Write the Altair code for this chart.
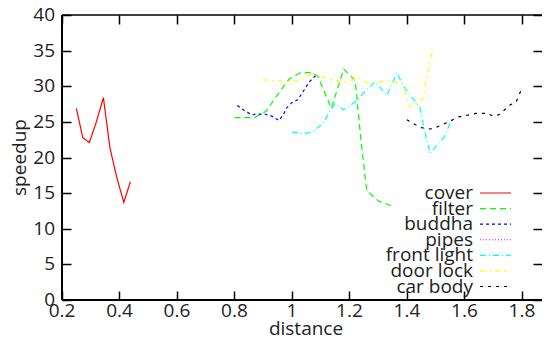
import altair as alt
import pandas as pd

# ---- data ----
series_names = ["cover", "filter", "buddha", "pipes", "front light", "door lock", "car body"]
series_colors = ["#ff0000", "#00ff00", "#0000ff", "#ff00ff", "#00ffff", "#ffff00", "#000000"]
series_dashes = [[1, 0], [6, 4], [3, 3], [1, 2], [6, 3, 1, 3], [5, 4, 2, 4], [3, 5]]

cover_x = [0.25, 0.272, 0.295, 0.318, 0.344, 0.367, 0.39, 0.415, 0.438]
cover_y = [26.9, 22.8, 22.1, 24.8, 28.4, 21.3, 17.3, 13.7, 16.6]

filter_x = [0.80, 0.87, 0.91, 0.95, 0.99, 1.03, 1.07, 1.09, 1.137, 1.18, 1.22, 1.24, 1.26, 1.30, 1.35]
filter_y = [25.6, 25.6, 26.5, 28.8, 31.0, 31.9, 31.9, 31.4, 26.9, 32.4, 30.8, 22.5, 15.4, 13.9, 13.2]

buddha_x = [0.81, 0.835, 0.86, 0.88, 0.905, 0.93, 0.955, 0.97, 0.98, 1.00, 1.02, 1.035, 1.06, 1.085]
buddha_y = [27.3, 26.6, 26.0, 26.1, 26.1, 25.8, 25.2, 26.0, 26.9, 27.7, 28.1, 29.0, 30.6, 31.6]

pipes_x = []
pipes_y = []

front_x = [1.00, 1.04, 1.07, 1.11, 1.13, 1.15, 1.18, 1.22, 1.26, 1.29, 1.33, 1.365, 1.39, 1.42,
           1.445, 1.46, 1.48, 1.50, 1.53, 1.55]
front_y = [23.6, 23.3, 23.6, 24.8, 26.4, 27.6, 26.7, 27.8, 29.5, 30.6, 28.7, 31.9, 29.9, 28.3,
           27.1, 24.0, 20.6, 21.5, 22.9, 24.8]

door_x = [0.90, 0.95, 0.99, 1.03, 1.07, 1.10, 1.14, 1.19, 1.23, 1.26, 1.30, 1.34, 1.375, 1.39,
          1.41, 1.44, 1.455, 1.475, 1.49]
door_y = [30.9, 30.8, 30.6, 30.9, 31.7, 31.4, 30.9, 30.6, 31.2, 30.5, 30.6, 30.8, 30.4, 29.7,
          27.1, 27.7, 28.3, 32.3, 35.3]

car_x = [1.40, 1.43, 1.45, 1.48, 1.50, 1.55, 1.58, 1.62, 1.64, 1.68, 1.70, 1.72, 1.74, 1.76, 1.78, 1.80]
car_y = [25.3, 24.6, 24.2, 24.0, 24.2, 25.1, 25.7, 26.0, 26.2, 26.2, 25.8, 26.0, 26.7, 27.4, 27.8, 29.7]

x_ticks = [0.2, 0.4, 0.6, 0.8, 1, 1.2, 1.4, 1.6, 1.8]
x_labels = ["0.2", "0.4", "0.6", "0.8", "1", "1.2", "1.4", "1.6", "1.8"]
y_ticks = [0, 5, 10, 15, 20, 25, 30, 35, 40]
y_labels = ["0", "5", "10", "15", "20", "25", "30", "35", "40"]
x_title = "distance"
y_title = "speedup"
x_domain = [0.2, 1.87]
y_domain = [0, 40]

# ---- build tables ----
all_x = [cover_x, filter_x, buddha_x, pipes_x, front_x, door_x, car_x]
all_y = [cover_y, filter_y, buddha_y, pipes_y, front_y, door_y, car_y]
rows = []
for name, xs_, ys_ in zip(series_names, all_x, all_y):
    for i, (xv, yv) in enumerate(zip(xs_, ys_)):
        rows.append({"series": name, "x": xv, "y": yv, "i": i})
df = pd.DataFrame(rows)
xt = pd.DataFrame({"xt": x_ticks, "label": x_labels})
yt = pd.DataFrame({"yt": y_ticks, "label": y_labels})
tt = pd.DataFrame({"xt": x_ticks, "yt": y_ticks})
one = pd.DataFrame({"k": [0]})

W, H = 480, 285
FONT = "Open Sans"
FS = 19
TICK = 9  # tick length in pixels (inward, gnuplot style)
TXT = "#222"


def xs():
    return alt.Scale(domain=x_domain, nice=False, zero=False)


def ys():
    return alt.Scale(domain=y_domain, nice=False, zero=False)


color_scale = alt.Scale(domain=series_names, range=series_colors)
dash_scale = alt.Scale(domain=series_names, range=series_dashes)

lines = alt.Chart(df).mark_line(strokeWidth=1.2, clip=True).encode(
    x=alt.X("x:Q", scale=xs(), axis=None),
    y=alt.Y("y:Q", scale=ys(), axis=None),
    color=alt.Color("series:N", scale=color_scale, legend=None),
    strokeDash=alt.StrokeDash("series:N", scale=dash_scale, legend=None),
    order="i:Q",
    detail="series:N",
)

# ---- frame: left / bottom / top border ----
bs = dict(color="#000", strokeWidth=2)
left_border = alt.Chart(one).mark_rule(**bs).encode(
    x=alt.X(datum=x_domain[0], scale=xs(), axis=None),
    y=alt.Y(datum=y_domain[0], scale=ys(), axis=None), y2=alt.datum(y_domain[1]))
bottom_border = alt.Chart(one).mark_rule(**bs).encode(
    x=alt.X(datum=x_domain[0], scale=xs(), axis=None), x2=alt.datum(x_domain[1]),
    y=alt.Y(datum=y_domain[0], scale=ys(), axis=None))
top_border = alt.Chart(one).mark_rule(color="#000", strokeWidth=1.5).encode(
    x=alt.X(datum=x_domain[0], scale=xs(), axis=None), x2=alt.datum(x_domain[1]),
    y=alt.Y(datum=y_domain[1], scale=ys(), axis=None))

# ---- tick labels and axis titles ----
ts = dict(font=FONT, fontSize=FS, color=TXT)
xlab = alt.Chart(xt).mark_text(align="center", baseline="middle", **ts).encode(
    x=alt.X("xt:Q", scale=xs(), axis=None), y=alt.value(H + 11), text="label:N")
ylab = alt.Chart(yt).mark_text(align="right", baseline="middle", **ts).encode(
    y=alt.Y("yt:Q", scale=ys(), axis=None), x=alt.value(-7), text="label:N")
xtitle = alt.Chart(one).mark_text(align="center", baseline="middle", **ts).encode(
    x=alt.value(244), y=alt.value(H + 29), text=alt.value(x_title))
ytitle = alt.Chart(one).mark_text(align="center", baseline="middle", angle=270, **ts).encode(
    x=alt.value(-42), y=alt.value(H / 2), text=alt.value(y_title))

main = alt.layer(lines, left_border, bottom_border, top_border, xlab, ylab, xtitle, ytitle)


# ---- inward mirrored ticks: tick-only axes pulled inside the frame ----
def tick_axis(orient, values):
    return alt.Axis(orient=orient, values=values, offset=-TICK, tickSize=TICK,
                    tickWidth=1.5, tickColor="#000", labels=False, domain=False,
                    grid=False, title="")


ticks_bl = alt.Chart(tt).mark_point(opacity=0).encode(
    x=alt.X("xt:Q", scale=xs(), axis=tick_axis("bottom", x_ticks)),
    y=alt.Y("yt:Q", scale=ys(), axis=tick_axis("left", y_ticks)))
ticks_tr = alt.Chart(tt).mark_point(opacity=0).encode(
    x=alt.X("xt:Q", scale=xs(), axis=tick_axis("top", x_ticks)),
    y=alt.Y("yt:Q", scale=ys(), axis=tick_axis("right", y_ticks)))

# ---- gnuplot-style key (labels right-aligned, samples to the right) ----
leg = pd.DataFrame({"series": series_names})
leg_y = alt.Y("series:N",
              scale=alt.Scale(type="point", domain=series_names, range=[178, 271.5], padding=0),
              axis=None)
leg_text = alt.Chart(leg).mark_text(align="right", baseline="middle", **ts).encode(
    y=leg_y, x=alt.value(411), text="series:N")
leg_line = alt.Chart(leg).mark_rule(strokeWidth=1.2).encode(
    y=leg_y, x=alt.value(418), x2=alt.value(449),
    color=alt.Color("series:N", scale=color_scale, legend=None),
    strokeDash=alt.StrokeDash("series:N", scale=dash_scale, legend=None))
legend = alt.layer(leg_text, leg_line)

chart = alt.layer(main, ticks_bl, ticks_tr, legend).resolve_scale(
    x="independent", y="independent", color="shared", strokeDash="shared"
).resolve_axis(
    x="independent", y="independent"
).properties(
    width=W, height=H,
    autosize=alt.AutoSizeParams(type="none"),
    padding={"left": 54, "top": 7, "right": 0, "bottom": 40},
).configure_view(strokeWidth=0)

chart.save("out.html", embed_options={"renderer": "svg", "actions": False})
